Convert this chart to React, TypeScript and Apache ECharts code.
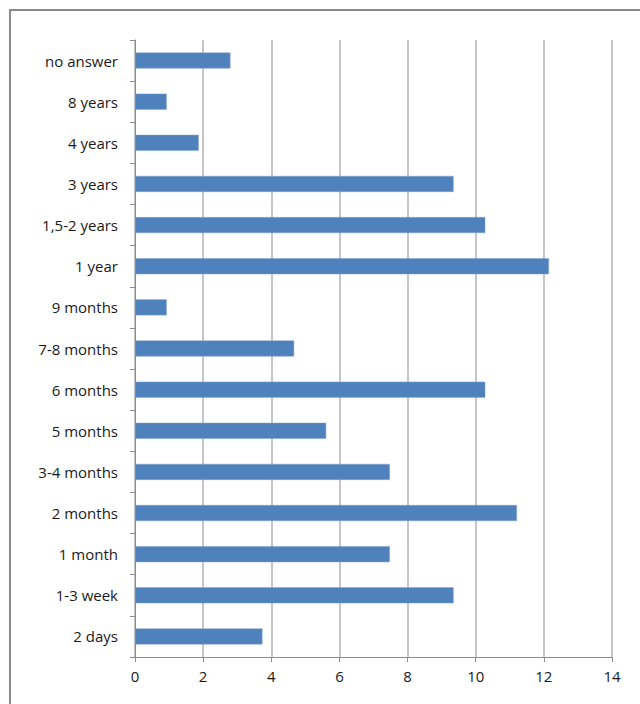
import React, { useEffect, useRef } from "react";
import * as echarts from "echarts";

const categories = [
  "2 days",
  "1-3 week",
  "1 month",
  "2 months",
  "3-4 months",
  "5 months",
  "6 months",
  "7-8 months",
  "9 months",
  "1 year",
  "1,5-2 years",
  "3 years",
  "4 years",
  "8 years",
  "no answer",
];
const values = [3.74, 9.35, 7.48, 11.21, 7.48, 5.61, 10.28, 4.67, 0.93, 12.15, 10.28, 9.35, 1.87, 0.93, 2.8];
const xMin = 0;
const xMax = 14;
const xStep = 2;

export default function App() {
  const ref = useRef<HTMLDivElement>(null);
  useEffect(() => {
    if (!ref.current) return;
    const chart = echarts.init(ref.current, null, { renderer: "svg" });
    const font = "'Open Sans', sans-serif";
    chart.setOption({
      animation: false,
      backgroundColor: "#ffffff",
      grid: { left: 135, right: 28, top: 40, bottom: 47, containLabel: false },
      graphic: [
        {
          type: "rect",
          shape: { x: 10, y: 10, width: 700, height: 760 },
          style: { fill: "none", stroke: "#8a8a8a", lineWidth: 2 },
          silent: true,
        },
      ],
      xAxis: {
        type: "value",
        min: xMin,
        max: xMax,
        interval: xStep,
        axisLine: { show: true, lineStyle: { color: "#8c8c8c", width: 1 } },
        axisTick: { show: true, length: 5, lineStyle: { color: "#8c8c8c" } },
        splitLine: { show: true, lineStyle: { color: "#b3b3b3", width: 1.5 } },
        axisLabel: { color: "#1a1a1a", fontSize: 15, fontFamily: font, margin: 11 },
      },
      yAxis: {
        type: "category",
        data: categories,
        axisLine: { show: true, lineStyle: { color: "#8c8c8c", width: 1 } },
        axisTick: { show: true, length: 5, alignWithLabel: false, lineStyle: { color: "#8c8c8c" } },
        splitLine: { show: false },
        axisLabel: { color: "#1a1a1a", fontSize: 15, fontFamily: font, margin: 17 },
      },
      series: [
        {
          type: "bar",
          data: values,
          barWidth: 16,
          itemStyle: { color: "#4F81BD", borderColor: "#7fa3d0", borderWidth: 0.5 },
        },
      ],
    });
    return () => chart.dispose();
  }, []);
  return (
    <div
      ref={ref}
      style={{ position: "fixed", left: 0, top: 0, width: 640, height: 704, background: "#fff" }}
    />
  );
}
